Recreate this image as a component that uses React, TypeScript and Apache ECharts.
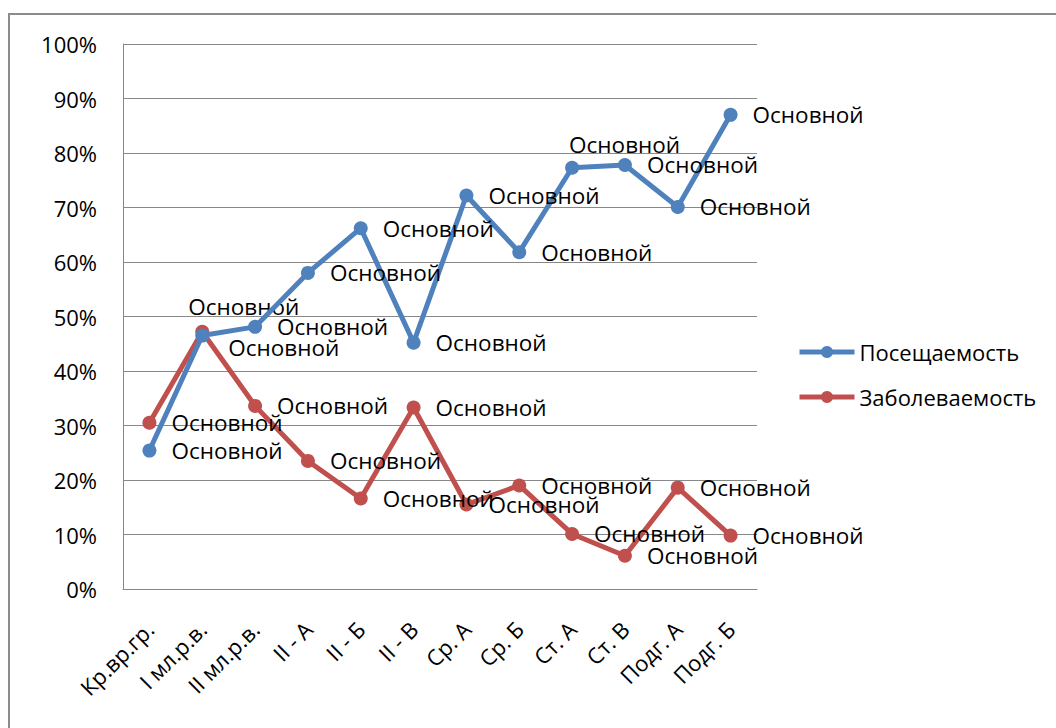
import React, { useEffect, useRef } from "react";
import * as echarts from "echarts";

const categories = [
  "Кр.вр.гр.",
  "I мл.р.в.",
  "II мл.р.в.",
  "II - А",
  "II - Б",
  "II - В",
  "Ср. А",
  "Ср. Б",
  "Ст. А",
  "Ст. В",
  "Подг. А",
  "Подг. Б",
];

const attendance = [25.4, 46.5, 48.1, 58.0, 66.2, 45.2, 72.2, 61.8, 77.3, 77.8, 70.1, 87.0];
const morbidity = [30.5, 47.2, 33.6, 23.5, 16.6, 33.3, 15.5, 19.0, 10.1, 6.1, 18.6, 9.8];

const seriesNames = ["Посещаемость", "Заболеваемость"];
const pointLabel = "Основной";

const FONT = "'Open Sans', 'Noto Sans', sans-serif";

export default function App() {
  const ref = useRef<HTMLDivElement>(null);

  useEffect(() => {
    if (!ref.current) return;
    const chart = echarts.init(ref.current, null, { renderer: "svg" });

    const labelBase = {
      show: true,
      position: "right" as const,
      distance: 15,
      formatter: () => pointLabel,
      color: "#000",
      fontSize: 22.5,
      fontFamily: FONT,
    };

    const blueData = attendance.map((v, i) => {
      if (i === 1) return { value: v, label: { offset: [4, 12] } };
      if (i === 8) return { value: v, label: { offset: [-25, -23] } };
      return v;
    });
    const redData = morbidity.map((v, i) => {
      if (i === 1) return { value: v, label: { offset: [-36, -25] } };
      return v;
    });

    chart.setOption({
      animation: false,
      backgroundColor: "#fff",
      graphic: [
        {
          type: "rect",
          shape: { x: 9, y: 14, width: 1100, height: 800 },
          style: { fill: "none", stroke: "#8c8c8c", lineWidth: 2 },
          silent: true,
          z: 100,
        },
      ],
      grid: { left: 123, top: 44, right: 299, bottom: 139, containLabel: false },
      legend: {
        orient: "vertical",
        left: 792,
        top: 335,
        itemWidth: 55,
        itemHeight: 15,
        itemGap: 21,
        lineStyle: { width: 5 },
        textStyle: { fontSize: 22, fontFamily: FONT, color: "#000", lineHeight: 24 },
        data: seriesNames,
      },
      xAxis: {
        type: "category",
        data: categories,
        boundaryGap: true,
        axisLine: { show: true, lineStyle: { color: "#888", width: 1 } },
        axisTick: { show: false },
        axisLabel: {
          rotate: 45,
          interval: 0,
          margin: 36,
          fontSize: 22,
          fontFamily: FONT,
          color: "#000",
        },
      },
      yAxis: {
        type: "value",
        min: 0,
        max: 100,
        interval: 10,
        axisLine: { show: true, lineStyle: { color: "#888", width: 1 } },
        axisTick: { show: false },
        splitLine: { show: true, lineStyle: { color: "#888", width: 1 } },
        axisLabel: {
          formatter: "{value}%",
          margin: 26,
          fontSize: 22,
          fontFamily: FONT,
          color: "#000",
        },
      },
      series: [
        {
          name: seriesNames[0],
          type: "line",
          data: blueData,
          color: "#4F81BD",
          symbol: "circle",
          symbolSize: 14,
          lineStyle: { width: 5, color: "#4F81BD" },
          itemStyle: { color: "#4F81BD" },
          label: labelBase,
          z: 3,
        },
        {
          name: seriesNames[1],
          type: "line",
          data: redData,
          color: "#C0504D",
          symbol: "circle",
          symbolSize: 14,
          lineStyle: { width: 5, color: "#C0504D" },
          itemStyle: { color: "#C0504D" },
          label: labelBase,
          z: 2,
        },
      ],
    });

    return () => chart.dispose();
  }, []);

  return (
    <div
      ref={ref}
      style={{ position: "absolute", left: 0, top: 0, width: 1056, height: 728, background: "#fff" }}
    />
  );
}
